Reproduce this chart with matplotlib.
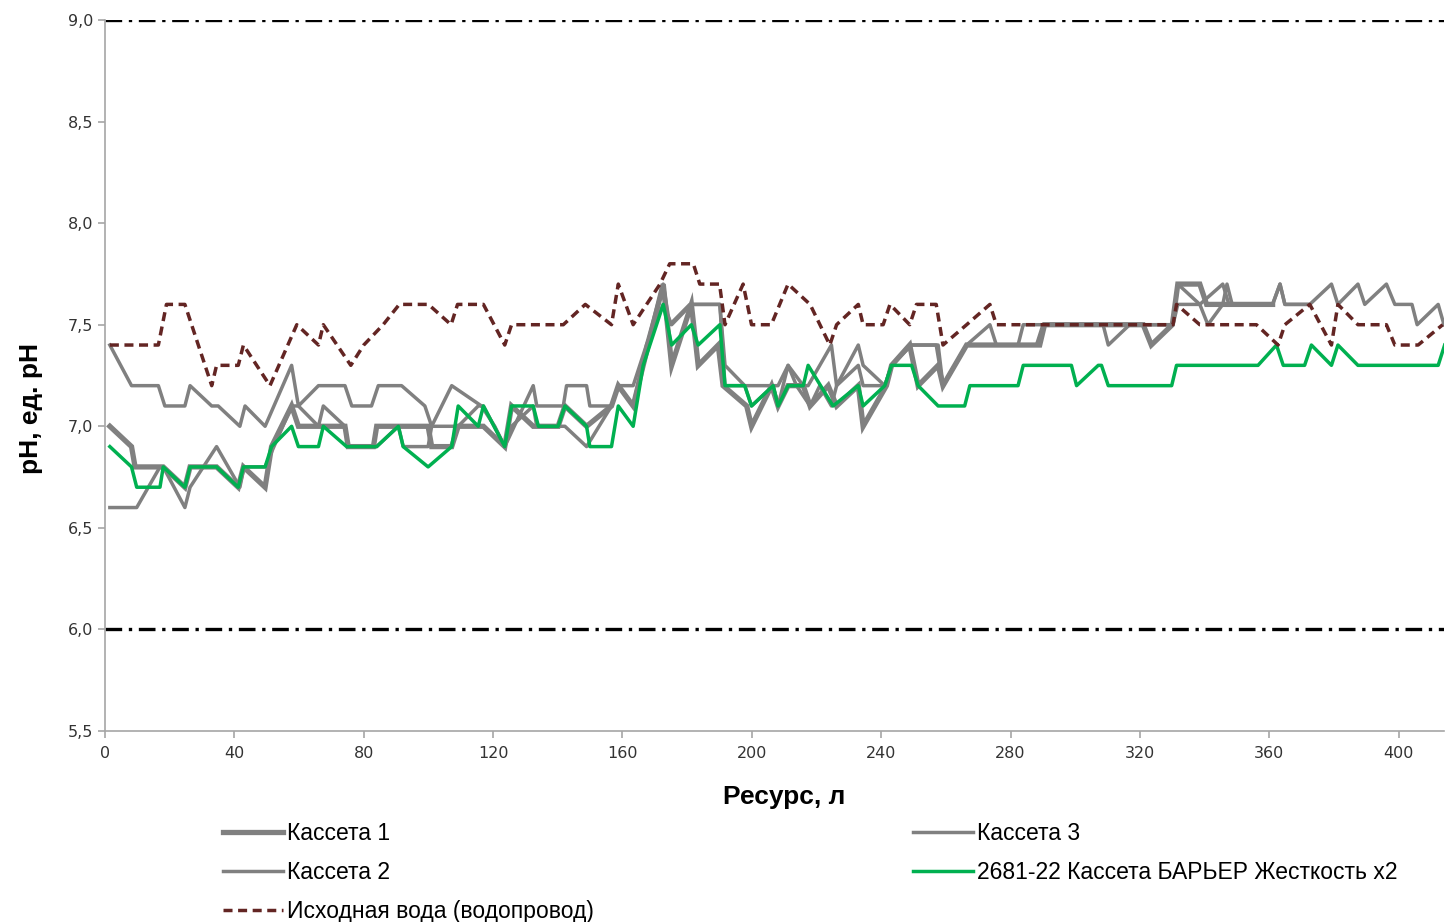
import matplotlib
matplotlib.use("Agg")
import matplotlib.pyplot as plt
from matplotlib.ticker import FuncFormatter, MultipleLocator

# ресурс, л / pH
k1_x = [1.5, 8.2, 9.3, 18, 24.7, 26.3, 34.5, 41.2, 42.8, 49.5, 51.5, 57.7, 59.8, 74.2, 75.2, 83, 84,
        99.9, 101, 107.2, 109.2, 117, 123.6, 125.7, 132.4, 140.1, 142.2, 148.9, 156.6, 158.7, 163.3,
        166.4, 172.6, 175.2, 181.3, 183.4, 189.6, 191.1, 198.4, 199.9, 206.1, 208.1, 211.2, 215.9,
        218, 223.6, 226.2, 232.9, 234.4, 241.6, 243.2, 248.8, 251.4, 257.6, 259.1, 266.4, 289,
        290.5, 321, 323.5, 330, 331.7, 338.5, 340.6, 361]
k1_y = [7.0, 6.9, 6.8, 6.8, 6.7, 6.8, 6.8, 6.7, 6.8, 6.7, 6.9, 7.1, 7.0, 7.0, 6.9, 6.9, 7.0,
        7.0, 6.9, 6.9, 7.0, 7.0, 6.9, 7.1, 7.0, 7.0, 7.1, 7.0, 7.1, 7.2, 7.1,
        7.3, 7.7, 7.3, 7.6, 7.3, 7.4, 7.2, 7.1, 7.0, 7.2, 7.1, 7.2, 7.2,
        7.1, 7.2, 7.1, 7.2, 7.0, 7.2, 7.3, 7.4, 7.2, 7.3, 7.2, 7.4, 7.4,
        7.5, 7.5, 7.4, 7.5, 7.7, 7.7, 7.6, 7.6]

k2_x = [1.5, 8.2, 16.5, 18.5, 24.7, 26.3, 33, 35, 41.7, 43.3, 49.5, 57.7, 59.8, 66, 74.2, 76.3,
        82.4, 84.5, 91.7, 98.9, 101, 107.2, 116.4, 120.5, 123.6, 132.4, 133.5, 141.7, 142.7, 148.9,
        149.9, 156.6, 158.7, 163.3, 167.4, 172.6, 174.6, 180.8, 190.1, 191.7, 197.8, 206.6, 208.1,
        211.2, 213.8, 218, 221, 224.6, 226.2, 232.9, 234.4, 241.1, 243.2, 248.8, 251.4, 257.6,
        259.1, 266.4, 288, 290, 316.8, 330.2, 331.7, 338.5, 341, 345.6, 346.9, 348.5, 361, 363.3,
        364.8, 372.5]
k2_y = [7.4, 7.2, 7.2, 7.1, 7.1, 7.2, 7.1, 7.1, 7.0, 7.1, 7.0, 7.3, 7.1, 7.2, 7.2, 7.1,
        7.1, 7.2, 7.2, 7.1, 7.0, 7.2, 7.1, 7.0, 6.9, 7.2, 7.1, 7.1, 7.2, 7.2,
        7.1, 7.1, 7.2, 7.2, 7.4, 7.7, 7.5, 7.6, 7.6, 7.3, 7.2, 7.2, 7.1,
        7.3, 7.2, 7.1, 7.2, 7.1, 7.2, 7.3, 7.2, 7.2, 7.3, 7.4, 7.4, 7.4,
        7.2, 7.4, 7.4, 7.5, 7.5, 7.5, 7.6, 7.6, 7.5, 7.6, 7.7, 7.6, 7.6, 7.7,
        7.6, 7.6]

k3_x = [1.5, 9.8, 17, 18, 24.7, 26.3, 34.5, 41.7, 43, 49.5, 57.7, 59.8, 66, 67.5, 74.2, 75.2,
        84, 90.7, 92.2, 99.9, 101, 107.2, 109.2, 115.4, 117, 123.6, 125.7, 132.4, 133.5, 140.1,
        142.2, 148.9, 156.6, 158.7, 163.3, 167.4, 172.6, 175.2, 181.3, 183.4, 190.1, 191.7, 197.8,
        199.9, 206.6, 208.1, 211.2, 215.9, 217.4, 224.6, 226.2, 232.9, 234.4, 241.1, 243.2, 249.4,
        257, 259.1, 266.4, 273.6, 275.6, 282.3, 283.9, 308.6, 310.2, 316.8, 330.2, 331.7, 338.5,
        345.6, 347.5, 361, 363.3, 364.8, 372.5, 379.2, 381.2, 387.4, 389.5, 396.2, 398.8, 404.1,
        405.7, 412.2, 414]
k3_y = [6.6, 6.6, 6.8, 6.8, 6.6, 6.7, 6.9, 6.7, 6.8, 6.8, 7.1, 7.1, 7.0, 7.1, 7.0, 6.9,
        6.9, 7.0, 6.9, 6.9, 7.0, 7.0, 7.0, 7.1, 7.1, 6.9, 7.0, 7.1, 7.0, 7.0,
        7.0, 6.9, 7.1, 7.2, 7.1, 7.4, 7.6, 7.5, 7.6, 7.6, 7.6, 7.2, 7.2,
        7.1, 7.2, 7.2, 7.3, 7.2, 7.2, 7.4, 7.2, 7.4, 7.3, 7.2, 7.3, 7.4,
        7.4, 7.2, 7.4, 7.5, 7.4, 7.4, 7.5, 7.5, 7.4, 7.5, 7.5, 7.7, 7.6,
        7.7, 7.6, 7.6, 7.7, 7.6, 7.6, 7.7, 7.6, 7.7, 7.6, 7.7, 7.6, 7.6,
        7.5, 7.6, 7.5]

bar_x = [1.5, 8.2, 9.8, 17, 18, 24.7, 26.3, 34.5, 41.2, 42.8, 49.5, 51.5, 57.7, 59.8, 66, 67.5,
         74.7, 84, 90.7, 92.2, 99.9, 107.2, 109.2, 115.4, 117, 123.6, 125.7, 132.4, 134, 140.1,
         142.2, 148.9, 149.9, 156.6, 158.7, 163.3, 166.4, 172.6, 175.2, 181.3, 183.4, 190.1, 191.7,
         197.8, 199.9, 206.6, 208.1, 211.2, 215.9, 217.4, 225.1, 232.9, 234.4, 241.1, 243.2, 249.4,
         251.4, 257.6, 265.8, 267.4, 282.3, 283.9, 298.8, 300.4, 307.1, 308.1, 310.2, 329.8, 331.3,
         356.5, 362.2, 364.3, 370.9, 373, 379.2, 381.2, 387.4, 412.2, 414.2]
bar_y = [6.9, 6.8, 6.7, 6.7, 6.8, 6.7, 6.8, 6.8, 6.7, 6.8, 6.8, 6.9, 7.0, 6.9, 6.9, 7.0,
         6.9, 6.9, 7.0, 6.9, 6.8, 6.9, 7.1, 7.0, 7.1, 6.9, 7.1, 7.1, 7.0, 7.0,
         7.1, 7.0, 6.9, 6.9, 7.1, 7.0, 7.3, 7.6, 7.4, 7.5, 7.4, 7.5, 7.2,
         7.2, 7.1, 7.2, 7.1, 7.2, 7.2, 7.3, 7.1, 7.2, 7.1, 7.2, 7.3, 7.3,
         7.2, 7.1, 7.1, 7.2, 7.2, 7.3, 7.3, 7.2, 7.3, 7.3, 7.2, 7.2, 7.3,
         7.3, 7.4, 7.3, 7.3, 7.4, 7.3, 7.4, 7.3, 7.3, 7.4]

src_x = [1.5, 16.5, 19, 24.7, 33, 34.5, 41.2, 42.8, 51, 59.3, 66, 67.5, 76, 80, 86, 91, 100,
         107, 109, 117, 123.6, 125.7, 141.7, 148.5, 156.6, 158.7, 163.3, 171.6, 174.6, 181.9,
         183.9, 190, 191.7, 197.3, 199.9, 206, 211.2, 218, 224.1, 226.2, 232.9, 234.4, 240.6,
         242.7, 248.8, 250.9, 257, 259.1, 266.4, 273.6, 275.6, 330.2, 331.3, 338.5, 356, 362.7,
         364.8, 372.5, 379.2, 381.2, 387.4, 396.2, 398.8, 406, 413.6]
src_y = [7.4, 7.4, 7.6, 7.6, 7.2, 7.3, 7.3, 7.4, 7.2, 7.5, 7.4, 7.5, 7.3, 7.4, 7.5, 7.6, 7.6,
         7.5, 7.6, 7.6, 7.4, 7.5, 7.5, 7.6, 7.5, 7.7, 7.5, 7.7, 7.8, 7.8,
         7.7, 7.7, 7.5, 7.7, 7.5, 7.5, 7.7, 7.6, 7.4, 7.5, 7.6, 7.5, 7.5,
         7.6, 7.5, 7.6, 7.6, 7.4, 7.5, 7.6, 7.5, 7.5, 7.6, 7.5, 7.5, 7.4,
         7.5, 7.6, 7.4, 7.6, 7.5, 7.5, 7.4, 7.4, 7.5]

# нормативные границы pH
limits = [6.0, 9.0]

GREY = "#808080"
GREEN = "#00B050"
BROWN = "#632523"

plt.rcParams["font.family"] = ["Liberation Sans", "DejaVu Sans"]

fig = plt.figure(figsize=(14.46, 9.22), dpi=100)
ax = fig.add_axes([105 / 1446, 1 - 731 / 922, (1444 - 105) / 1446, (731 - 20) / 922])

for lim in limits:
    ax.axhline(lim, color="black", lw=2.4, dashes=(5, 2, 1, 2), zorder=1)

l1, = ax.plot(k1_x, k1_y, color=GREY, lw=3.8, solid_joinstyle="miter", zorder=3)
l2, = ax.plot(k2_x, k2_y, color=GREY, lw=2.5, zorder=3)
l3, = ax.plot(k3_x, k3_y, color=GREY, lw=2.5, zorder=3)
l4, = ax.plot(bar_x, bar_y, color=GREEN, lw=2.5, zorder=4)
l5, = ax.plot(src_x, src_y, color=BROWN, lw=2.5, dashes=(2.6, 1.6), zorder=5)

ax.set_xlim(0, 414)
ax.set_ylim(5.5, 9.0)
ax.xaxis.set_major_locator(MultipleLocator(40))
ax.yaxis.set_major_locator(MultipleLocator(0.5))
ax.yaxis.set_major_formatter(FuncFormatter(lambda v, p: f"{v:.1f}".replace(".", ",")))

for s in ["top", "right"]:
    ax.spines[s].set_visible(False)
for s in ["left", "bottom"]:
    ax.spines[s].set_color("#A6A6A6")
    ax.spines[s].set_linewidth(1.2)
ax.tick_params(axis="both", colors="#A6A6A6", labelcolor="#333333", labelsize=11.5,
               length=5, width=1.2, direction="out")
ax.tick_params(axis="x", pad=6)
for t in ax.get_xticklabels() + ax.get_yticklabels():
    t.set_fontfamily("DejaVu Sans")

fig.text(784 / 1446, 1 - 797 / 922, "Ресурс, л", ha="center", va="center",
         fontsize=19, fontweight="bold")
fig.text(31 / 1446, 1 - 408 / 922, "pH, ед. pH", ha="center", va="center",
         rotation=90, fontsize=19, fontweight="bold")

leg_kw = dict(frameon=False, fontsize=16.5, handlelength=2.6, handletextpad=0.2,
              labelspacing=0.69, borderaxespad=0, borderpad=0)
fig.legend([l1, l2, l5], ["Кассета 1", "Кассета 2", "Исходная вода (водопровод)"],
           loc="upper left", bbox_to_anchor=(223 / 1446, 1 - 822 / 922), **leg_kw)
fig.legend([l3, l4], ["Кассета 3", "2681-22 Кассета БАРЬЕР Жесткость x2"],
           loc="upper left", bbox_to_anchor=(913 / 1446, 1 - 822 / 922), **leg_kw)

fig.savefig("out.png", dpi=100)
